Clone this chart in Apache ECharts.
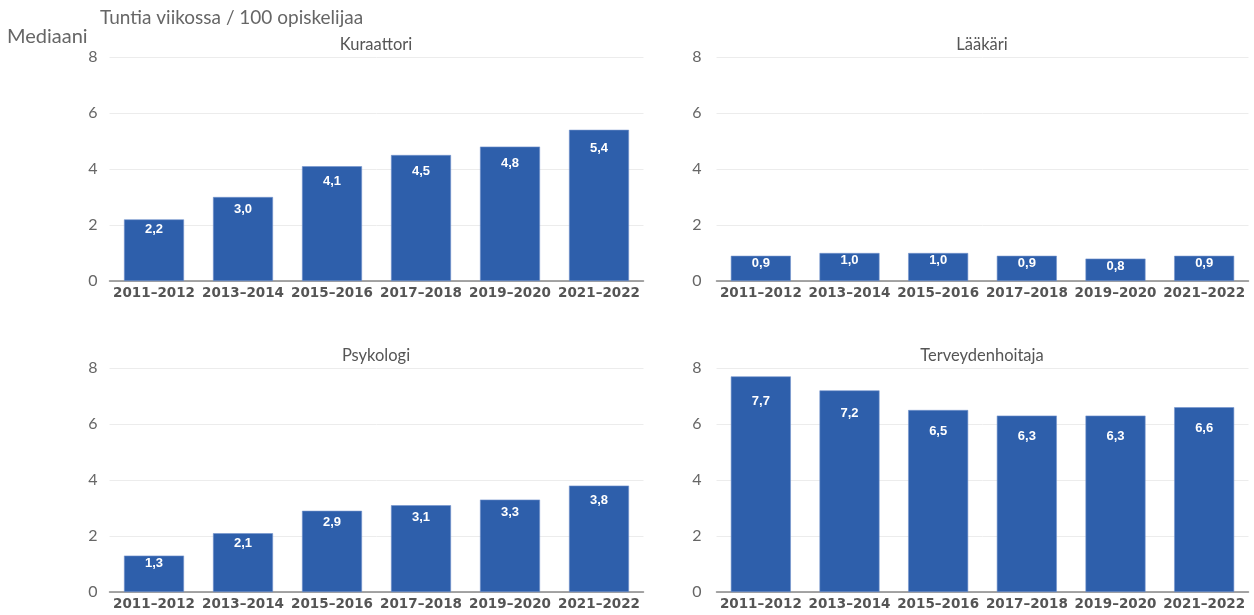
<!DOCTYPE html>
<html>
<head>
<meta charset="utf-8">
<script src="https://cdn.jsdelivr.net/npm/echarts@6/dist/echarts.min.js"></script>
<style>html,body{margin:0;padding:0;background:#fff}#c{width:1254px;height:615px}</style>
</head>
<body>
<div id="c"></div>
<script>
const categories = ['2011–2012','2013–2014','2015–2016','2017–2018','2019–2020','2021–2022'];
const kuraattori = [2.2, 3.0, 4.1, 4.5, 4.8, 5.4];
const laakari = [0.9, 1.0, 1.0, 0.9, 0.8, 0.9];
const psykologi = [1.3, 2.1, 2.9, 3.1, 3.3, 3.8];
const terveydenhoitaja = [7.7, 7.2, 6.5, 6.3, 6.3, 6.6];
const panelNames = ['Kuraattori','Lääkäri','Psykologi','Terveydenhoitaja'];
const yTicks = [0, 2, 4, 6, 8];

const panels = [kuraattori, laakari, psykologi, terveydenhoitaja];
const grids = [
  {left:109.5, top:57, width:534, height:224},
  {left:716.5, top:57, width:532, height:224},
  {left:109.5, top:368, width:534, height:224},
  {left:716.5, top:368, width:532, height:224}
];
const titlePos = [[376,45],[982,45],[376,356],[982,356]];
const barColor = '#2e5fab';
const pxPerUnit = 224 / 8;

const chart = echarts.init(document.getElementById('c'));
const option = {
  animation:false,
  backgroundColor:'#fff',
  graphic: [
    {type:'text', left:100, top:8, style:{text:'Tuntia viikossa / 100 opiskelijaa', fontFamily:'Lato', fontSize:19, fill:'#666'}},
    {type:'text', left:7, top:27, style:{text:'Mediaani', fontFamily:'Lato', fontSize:20, fill:'#666'}}
  ].concat(panelNames.map((n,i)=>({
    type:'text', x:titlePos[i][0], y:titlePos[i][1],
    style:{text:n, align:'center', verticalAlign:'middle', fontFamily:'Lato', fontSize:16.5, fill:'#555'}
  }))),
  grid: grids,
  xAxis: panels.map((p,i)=>({
    type:'category', gridIndex:i, data:categories,
    axisLine:{show:true, lineStyle:{color:'#888', width:1.5}},
    axisTick:{show:false},
    axisLabel:{fontFamily:'DejaVu Sans', fontWeight:'bold', fontSize:13.5, color:'#555', margin:5, interval:0}
  })),
  yAxis: panels.map((p,i)=>({
    type:'value', gridIndex:i, min:yTicks[0], max:yTicks[yTicks.length-1], interval:2,
    axisLine:{show:false}, axisTick:{show:false},
    splitLine:{lineStyle:{color:'#ececec'}},
    axisLabel:{fontFamily:'Lato', fontSize:16, color:'#666', margin:(i%2===0)?12:15}
  })),
  series: panels.map((p,i)=>({
    type:'bar', xAxisIndex:i, yAxisIndex:i, barWidth:60,
    data: p.map(v=>({value:v, label:{distance: Math.max(1, 0.093*v*pxPerUnit - 2)}})),
    itemStyle:{color:barColor, borderColor:'#7393cc', borderWidth:0.6},
    label:{show:true, position:'insideTop', color:'#fff', fontFamily:'Liberation Sans', fontWeight:'bold', fontSize:13,
      formatter: d => d.value.toFixed(1).replace('.', ',')}
  }))
};
chart.setOption(option);
</script>
</body>
</html>
